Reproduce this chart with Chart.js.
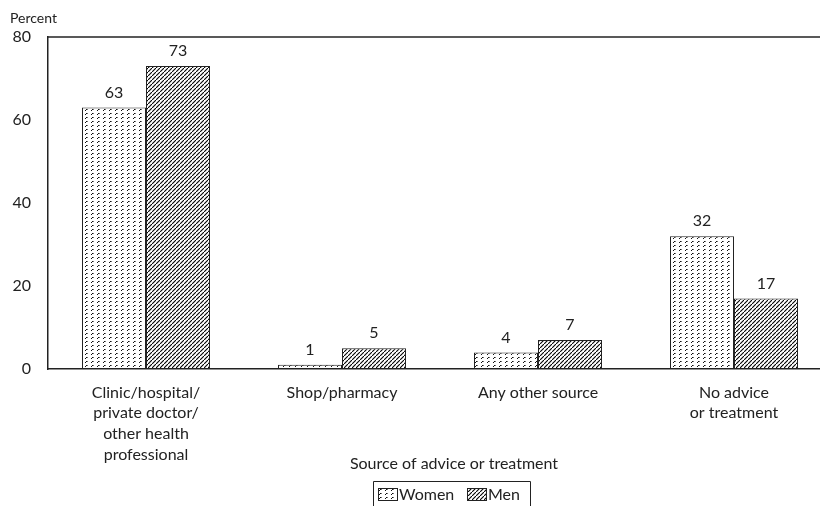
<!DOCTYPE html>
<html><head><meta charset="utf-8">
<script src="https://cdn.jsdelivr.net/npm/chart.js@4/dist/chart.umd.min.js"></script>
<style>html,body{margin:0;padding:0;overflow:hidden;background:#fff}#wrap{width:840px;height:506px}</style>
</head><body><div id="wrap"><canvas id="c" width="840" height="506"></canvas></div>
<script>
const categories = [["Clinic/hospital/","private doctor/","other health","professional"],"Shop/pharmacy","Any other source",["No advice","or treatment"]];
const women = [63, 1, 4, 32];
const men = [73, 5, 7, 17];
const yTicks = [0, 20, 40, 60, 80];
const seriesNames = ["Women", "Men"];
const FONT = "Lato, 'Open Sans', sans-serif";

function dotPattern(){
  const c = document.createElement('canvas'); c.width = 6; c.height = 4;
  const g = c.getContext('2d');
  g.fillStyle = '#fff'; g.fillRect(0,0,6,4);
  g.fillStyle = '#111';
  g.fillRect(2,1,1,1); g.fillRect(1,2,1,1);
  g.fillStyle = '#777';
  g.fillRect(3,1,1,1);
  return g.createPattern(c,'repeat');
}
function hatchPattern(){
  const s = 4;
  const c = document.createElement('canvas'); c.width = s; c.height = s;
  const g = c.getContext('2d');
  g.fillStyle = '#fff'; g.fillRect(0,0,s,s);
  g.strokeStyle = '#000'; g.lineWidth = 1.1;
  g.beginPath(); g.moveTo(-1,s+1); g.lineTo(s+1,-1); g.stroke();
  return g.createPattern(c,'repeat');
}
const pats = [dotPattern(), hatchPattern()];

const overlay = {
  id: 'overlay',
  afterDatasetsDraw(chart){
    const ctx = chart.ctx, a = chart.chartArea;
    ctx.save();
    ctx.strokeStyle = '#222'; ctx.lineWidth = 1.5;
    ctx.beginPath(); ctx.moveTo(a.left, a.top); ctx.lineTo(chart.width, a.top); ctx.stroke();
    ctx.fillStyle = '#222'; ctx.font = '16px ' + FONT;
    ctx.textAlign = 'center'; ctx.textBaseline = 'bottom';
    chart.data.datasets.forEach((ds, i) => {
      chart.getDatasetMeta(i).data.forEach((bar, j) => {
        ctx.fillText(String(ds.data[j]), bar.x, bar.y - 7);
      });
    });
    ctx.textAlign = 'left'; ctx.textBaseline = 'alphabetic'; ctx.font = '14px ' + FONT;
    ctx.fillText('Percent', 10, 23);
    ctx.textAlign = 'center'; ctx.font = '16px ' + FONT;
    ctx.fillText('Source of advice or treatment', 454, 469);
    // legend
    const lx = 373, ly = 481, lw = 157, lh = 26;
    ctx.lineWidth = 1; ctx.strokeStyle = '#222';
    ctx.beginPath(); ctx.moveTo(lx+0.5, ly+lh); ctx.lineTo(lx+0.5, ly+0.5); ctx.lineTo(lx+lw+0.5, ly+0.5); ctx.lineTo(lx+lw+0.5, ly+lh); ctx.stroke();
    ctx.textAlign = 'left'; ctx.textBaseline = 'middle';
    const items = [[378, seriesNames[0]], [467, seriesNames[1]]];
    items.forEach(([x, name], i) => {
      ctx.fillStyle = pats[i]; ctx.fillRect(x, 488, 19, 12);
      ctx.strokeRect(x+0.5, 488.5, 19, 12);
      ctx.fillStyle = '#222';
      ctx.fillText(name, x + 21, 495);
    });
    ctx.restore();
  }
};

new Chart(document.getElementById('c'), {
  type: 'bar',
  data: {
    labels: categories,
    datasets: [
      {label: seriesNames[0], data: women, backgroundColor: pats[0], borderColor: '#222', borderWidth: 1, borderSkipped: false},
      {label: seriesNames[1], data: men, backgroundColor: pats[1], borderColor: '#222', borderWidth: 1, borderSkipped: false}
    ]
  },
  options: {
    responsive: false, animation: false,
    layout: {padding: {top: 37, right: 8, left: 0, bottom: 0}},
    datasets: {bar: {categoryPercentage: 128/196, barPercentage: 1}},
    plugins: {legend: {display: false}, tooltip: {enabled: false}},
    scales: {
      x: {
        grid: {display: false, drawTicks: false},
        border: {color: '#222', width: 1.5},
        ticks: {color: '#222', font: {family: FONT, size: 16, lineHeight: 1.3}, padding: 13, maxRotation: 0, autoSkip: false},
        afterFit(s){ s.height = 137; }
      },
      y: {
        min: 0, max: 80,
        afterBuildTicks(s){ s.ticks = yTicks.map(v => ({value: v})); },
        grid: {display: false, drawTicks: false},
        border: {color: '#222', width: 1.5},
        ticks: {color: '#222', font: {family: FONT, size: 16}, padding: 17},
        afterFit(s){ s.width = 48; }
      }
    }
  },
  plugins: [overlay]
});
</script></body></html>
